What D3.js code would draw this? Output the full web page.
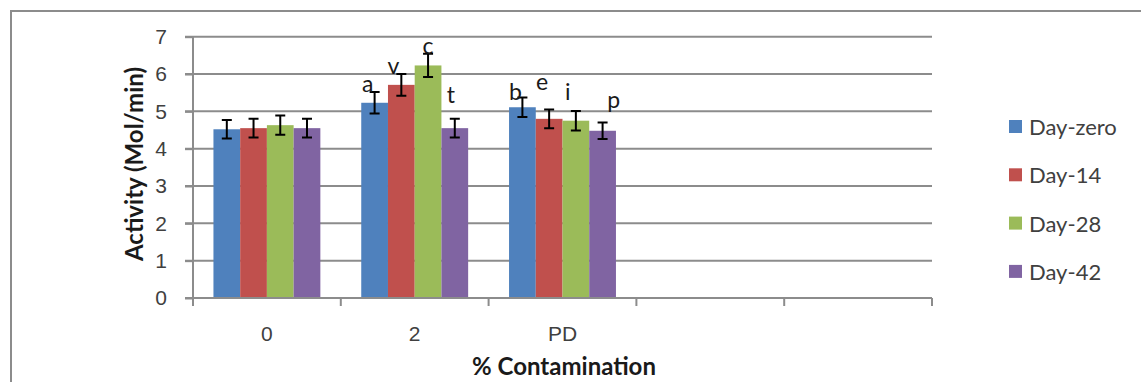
<!DOCTYPE html>
<html>
<head>
<meta charset="utf-8">
<script src="https://cdn.jsdelivr.net/npm/d3@7"></script>
<style>
  body { margin: 0; background: #fff; }
  svg { display: block; font-family: Lato, "Open Sans", sans-serif; }
</style>
</head>
<body>
<svg id="chart" width="1141" height="382"></svg>
<script>
// categories on the x axis (last two slots are empty in the original)
var categories = ["0", "2", "PD", "", " "];
var seriesNames = ["Day-zero", "Day-14", "Day-28", "Day-42"];

// mean activity per series, one value per filled category
var dayZero = [4.52, 5.23, 5.11];
var day14 = [4.55, 5.71, 4.80];
var day28 = [4.63, 6.23, 4.75];
var day42 = [4.55, 4.55, 4.48];

// error bar half widths
var errZero = [0.25, 0.29, 0.26];
var err14 = [0.25, 0.29, 0.25];
var err28 = [0.26, 0.31, 0.26];
var err42 = [0.25, 0.25, 0.22];

// significance letters (category index 1 and 2)
var letters = [
  ["", "a", "b"],
  ["", "v", "e"],
  ["", "c", "i"],
  ["", "t", "p"]
];
var yTicks = [0, 1, 2, 3, 4, 5, 6, 7];

var colors = ["#4f81bd", "#c0504d", "#9bbb59", "#8064a2"];
// hand placed nudges of the letters, in px (dx, dy from top of error bar)
var letterNudge = [
  [[0, 0], [-7, 0], [-7, 2]],
  [[0, 0], [-8, 0], [-7, -19]],
  [[0, 0], [0, 0], [-8, -11]],
  [[0, 0], [-4, -16], [11, -15]]
];

var values = [dayZero, day14, day28, day42];
var errors = [errZero, err14, err28, err42];

var margin = {top: 36.7, left: 193, right: 209, bottom: 84};
var width = 1141 - margin.left - margin.right,
    height = 382 - margin.top - margin.bottom;

var svg = d3.select("#chart");

// outer frame of the chart
svg.append("path")
  .attr("d", "M11,382 V11 H1141")
  .attr("fill", "none")
  .attr("stroke", "#8c8c8c")
  .attr("stroke-width", 2);

var g = svg.append("g")
  .attr("transform", "translate(" + margin.left + "," + margin.top + ")");

var x0 = d3.scaleBand().domain(categories).range([0, width]).paddingInner(0).paddingOuter(0);
var x1 = d3.scaleBand().domain(d3.range(seriesNames.length))
  .range([0, x0.bandwidth()]).paddingOuter(0.765).paddingInner(0);
var y = d3.scaleLinear().domain([0, 7]).range([height, 0]);

// gridlines
g.selectAll(".grid").data(yTicks.slice(1)).enter().append("line")
  .attr("x1", -8).attr("x2", width)
  .attr("y1", function(d) { return y(d); })
  .attr("y2", function(d) { return y(d); })
  .attr("stroke", "#8c8c8c").attr("stroke-width", 2);

// y axis
var yAxis = g.append("g").call(d3.axisLeft(y).tickValues(yTicks).tickFormat(d3.format("d")).tickSize(8).tickPadding(18));
yAxis.select(".domain").attr("stroke", "#8c8c8c").attr("stroke-width", 2).attr("d", "M0," + height + "V0");
yAxis.selectAll(".tick line").attr("stroke", "#8c8c8c").attr("stroke-width", 2);
yAxis.selectAll(".tick text").attr("fill", "#404040").attr("font-size", 21);

// bars
var groups = g.selectAll(".series").data(values).enter().append("g")
  .attr("fill", function(d, i) { return colors[i]; });

groups.each(function(vals, s) {
  var grp = d3.select(this);
  grp.selectAll("rect").data(vals).enter().append("rect")
    .attr("x", function(d, c) { return x0(categories[c]) + x1(s); })
    .attr("y", function(d) { return y(d); })
    .attr("width", x1.bandwidth())
    .attr("height", function(d) { return height - y(d); });

  // error bars
  var eb = grp.selectAll(".err").data(vals).enter().append("g")
    .attr("stroke", "#000").attr("stroke-width", 2).attr("fill", "none");
  eb.append("path").attr("d", function(d, c) {
    var cx = x0(categories[c]) + x1(s) + x1.bandwidth() / 2;
    var e = errors[s][c];
    return "M" + cx + "," + y(d + e) + "V" + y(d - e) +
      "M" + (cx - 5) + "," + y(d + e) + "h10" +
      "M" + (cx - 5) + "," + y(d - e) + "h10";
  });

  // letters
  grp.selectAll(".lbl").data(vals).enter().append("text")
    .attr("x", function(d, c) { return x0(categories[c]) + x1(s) + x1.bandwidth() / 2 + letterNudge[s][c][0]; })
    .attr("y", function(d, c) { return y(d + errors[s][c]) + letterNudge[s][c][1]; })
    .attr("text-anchor", "middle")
    .attr("fill", "#1a1a1a")
    .attr("font-size", 23)
    .text(function(d, c) { return letters[s][c]; });
});

// x axis
var xAxis = g.append("g").attr("transform", "translate(0," + height + ")")
  .call(d3.axisBottom(x0).tickSize(0).tickPadding(28));
xAxis.select(".domain").attr("stroke", "#8c8c8c").attr("stroke-width", 2).attr("d", "M-8,0H" + width);
xAxis.selectAll(".tick text").attr("fill", "#404040").attr("font-size", 21);
// category separator ticks
xAxis.selectAll(".sep").data(d3.range(categories.length + 1)).enter().append("line")
  .attr("x1", function(i) { return i * x0.step(); })
  .attr("x2", function(i) { return i * x0.step(); })
  .attr("y1", 0).attr("y2", 8)
  .attr("stroke", "#8c8c8c").attr("stroke-width", 2);

// axis titles
svg.append("text")
  .attr("transform", "translate(143,164) rotate(-90)")
  .attr("text-anchor", "middle")
  .attr("font-size", 24).attr("font-weight", "bold").attr("fill", "#1a1a1a")
  .text("Activity (Mol/min)");
svg.append("text")
  .attr("x", 564).attr("y", 375)
  .attr("text-anchor", "middle")
  .attr("font-size", 24).attr("font-weight", "bold").attr("fill", "#1a1a1a")
  .text("% Contamination");

// legend
var legend = svg.append("g").attr("transform", "translate(1009,127)");
var items = legend.selectAll("g").data(seriesNames).enter().append("g")
  .attr("transform", function(d, i) { return "translate(0," + i * 48.3 + ")"; });
items.append("rect").attr("x", 0).attr("y", -7).attr("width", 13).attr("height", 13)
  .attr("fill", function(d, i) { return colors[i]; });
items.append("text").attr("x", 20).attr("y", 8)
  .attr("font-size", 22).attr("fill", "#404040")
  .text(function(d) { return d; });
</script>
</body>
</html>
